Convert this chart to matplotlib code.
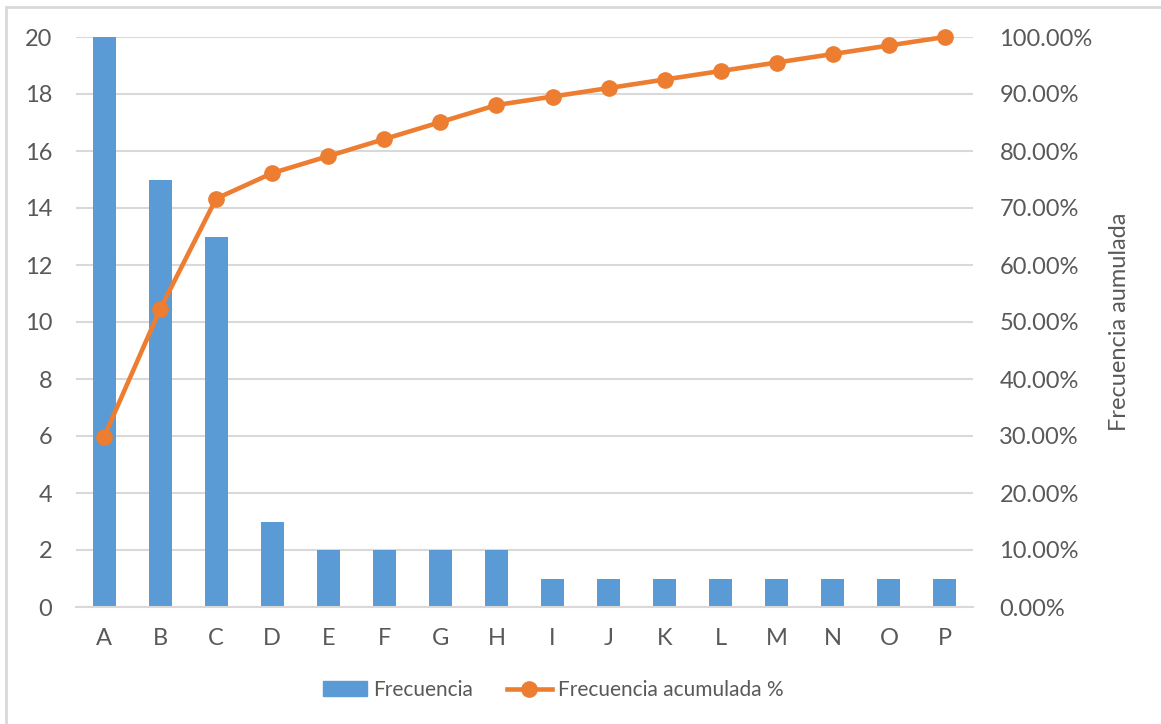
import matplotlib
matplotlib.use("Agg")
import matplotlib.pyplot as plt
from matplotlib.patches import Rectangle
from matplotlib.lines import Line2D
from matplotlib.ticker import FuncFormatter

plt.rcParams['font.family'] = ['Lato', 'DejaVu Sans']

categories = ["A", "B", "C", "D", "E", "F", "G", "H",
              "I", "J", "K", "L", "M", "N", "O", "P"]
frecuencia = [20, 15, 13, 3, 2, 2, 2, 2, 1, 1, 1, 1, 1, 1, 1, 1]
acumulada_pct = [29.85, 52.24, 71.64, 76.12, 79.10, 82.09, 85.07, 88.06,
                 89.55, 91.04, 92.54, 94.03, 95.52, 97.01, 98.51, 100.00]

BLUE = "#5B9BD5"
ORANGE = "#ED7D31"
GRID = "#D9D9D9"
TEXT = "#595959"
FS = 17
LEGEND_FS = 15

W, H = 1161, 724
fig = plt.figure(figsize=(W / 100, H / 100), dpi=100)

# outer chart border (open at right and bottom)
fig.patches.append(Rectangle((6 / W, -0.1), 1.2, (H - 7) / H + 0.1,
                             transform=fig.transFigure, fill=False,
                             edgecolor=GRID, linewidth=2))

left, right, top, bottom = 76, 973, 37, 607
ax = fig.add_axes([left / W, 1 - bottom / H, (right - left) / W, (bottom - top) / H])
x = list(range(len(categories)))
ax.bar(x, frecuencia, width=0.41, color=BLUE, zorder=2)
ax.set_xlim(-0.5, len(categories) - 0.5)
ax.set_ylim(0, 20)
ax.set_yticks(range(0, 21, 2))
ax.set_xticks(x)
ax.set_xticklabels(categories)
ax.grid(axis='y', color=GRID, linewidth=1.5, zorder=0)
ax.set_axisbelow(True)
for s in ("top", "right", "left"):
    ax.spines[s].set_visible(False)
ax.spines["bottom"].set_color(GRID)
ax.spines["bottom"].set_linewidth(1.5)
ax.tick_params(axis='both', length=0, labelsize=FS, labelcolor=TEXT)
ax.tick_params(axis='y', pad=17)
ax.tick_params(axis='x', pad=15)

ax2 = ax.twinx()
ax2.plot(x, acumulada_pct, color=ORANGE, linewidth=3.3, marker='o',
         markersize=11, zorder=3, clip_on=False)
ax2.set_ylim(0, 100)
ax2.set_yticks(range(0, 101, 10))
ax2.yaxis.set_major_formatter(FuncFormatter(lambda v, p: f"{v:.2f}%"))
for s in ("top", "right", "left", "bottom"):
    ax2.spines[s].set_visible(False)
ax2.tick_params(axis='y', length=0, labelsize=FS, labelcolor=TEXT, pad=19)
ax2.set_ylabel("Frecuencia aumulada", fontsize=FS, color=TEXT, labelpad=12)

handles = [Rectangle((0, 0), 1, 1, color=BLUE),
           Line2D([0], [0], color=ORANGE, linewidth=3.3, marker='o', markersize=11)]
fig.legend(handles, ["Frecuencia", "Frecuencia acumulada %"],
           loc='center', bbox_to_anchor=(553 / W, 1 - 690 / H), ncol=2,
           frameon=False, fontsize=LEGEND_FS, labelcolor=TEXT,
           handlelength=2.15, handletextpad=0.3, columnspacing=1.6)

fig.savefig("out.png", dpi=100)
